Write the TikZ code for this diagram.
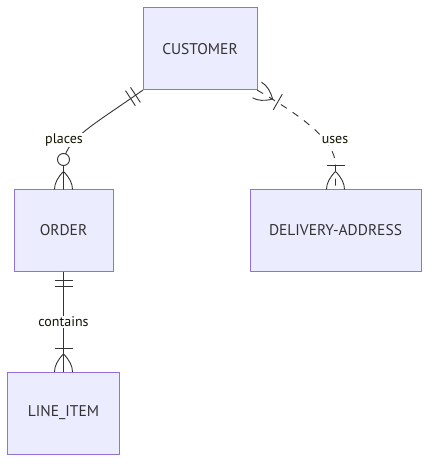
\documentclass[tikz,border=0pt]{standalone}
\usepackage{fontspec}
\setmainfont{PT Sans}
\usetikzlibrary{positioning, calc}
\definecolor{entityfill}{HTML}{ECECFF}
\definecolor{entityline}{HTML}{9370DB}
\definecolor{inktext}{HTML}{333333}
\definecolor{labeltext}{HTML}{131300}
\definecolor{relline}{HTML}{333333}

\newcommand{\crowpath}{(0,9) .. controls (6,9) and (12,6) .. (18,0) .. controls (12,-6) and (6,-9) .. (0,-9)}

\tikzset{
  entity/.style={draw=entityline, fill=entityfill, line width=1pt, text=inktext, font=\fontsize{15.5}{18}\selectfont, inner sep=0pt, outer sep=0pt, minimum height=82pt},
  rel/.style={draw=relline, line width=0.9pt},
  relnote/.style={fill=white, text=labeltext, font=\fontsize{14}{16}\selectfont, inner sep=1pt},
  onlyone/.pic={\draw[rel] (9,-9) -- (9,9) (15,-9) -- (15,9);},
  oneormore/.pic={\draw[rel] \crowpath; \draw[rel] (24,-9) -- (24,9);},
  zeroormore/.pic={\draw[rel] \crowpath; \draw[rel, fill=white] (30,0) circle (6);},
}

\begin{document}
\begin{tikzpicture}[x=1pt, y=1pt]
  \useasboundingbox (0,0) rectangle (436,-470);

  % Entities
  \node[entity, minimum width=114pt] (customer) at (200,-49) {CUSTOMER};
  \node[entity, minimum width=99pt] (order) at (63.5,-230.5) {ORDER};
  \node[entity, minimum width=171pt] (address) at (335.5,-230.5) {DELIVERY-ADDRESS};
  \node[entity, minimum width=112pt] (item) at (63.5,-413) {LINE\_ITEM};

  % Relationships
  \draw[rel] (customer.south west) .. controls (92,-126) and (63.5,-140) .. (63.5,-165) -- (order.north);
  \draw[rel, dash pattern=on 7pt off 7pt] (customer.south east) .. controls (300,-115) and (335.5,-140) .. (335.5,-165) -- (address.north);
  \draw[rel] (order.south) -- (item.north);

  % Cardinality marks
  \pic[rotate=213] at (customer.south west) {onlyone};
  \pic[rotate=90] at (order.north) {zeroormore};
  \pic[rotate=-30] at (customer.south east) {oneormore};
  \pic[rotate=90] at (address.north) {oneormore};
  \pic[rotate=-90] at (order.south) {onlyone};
  \pic[rotate=90] at (item.north) {oneormore};

  % Labels
  \node[relnote] (places) at (64,-140) {places};
  \node[relnote] (uses) at (335,-140) {uses};
  \node[relnote] (contains) at (63.5,-322) {contains};
\end{tikzpicture}
\end{document}
